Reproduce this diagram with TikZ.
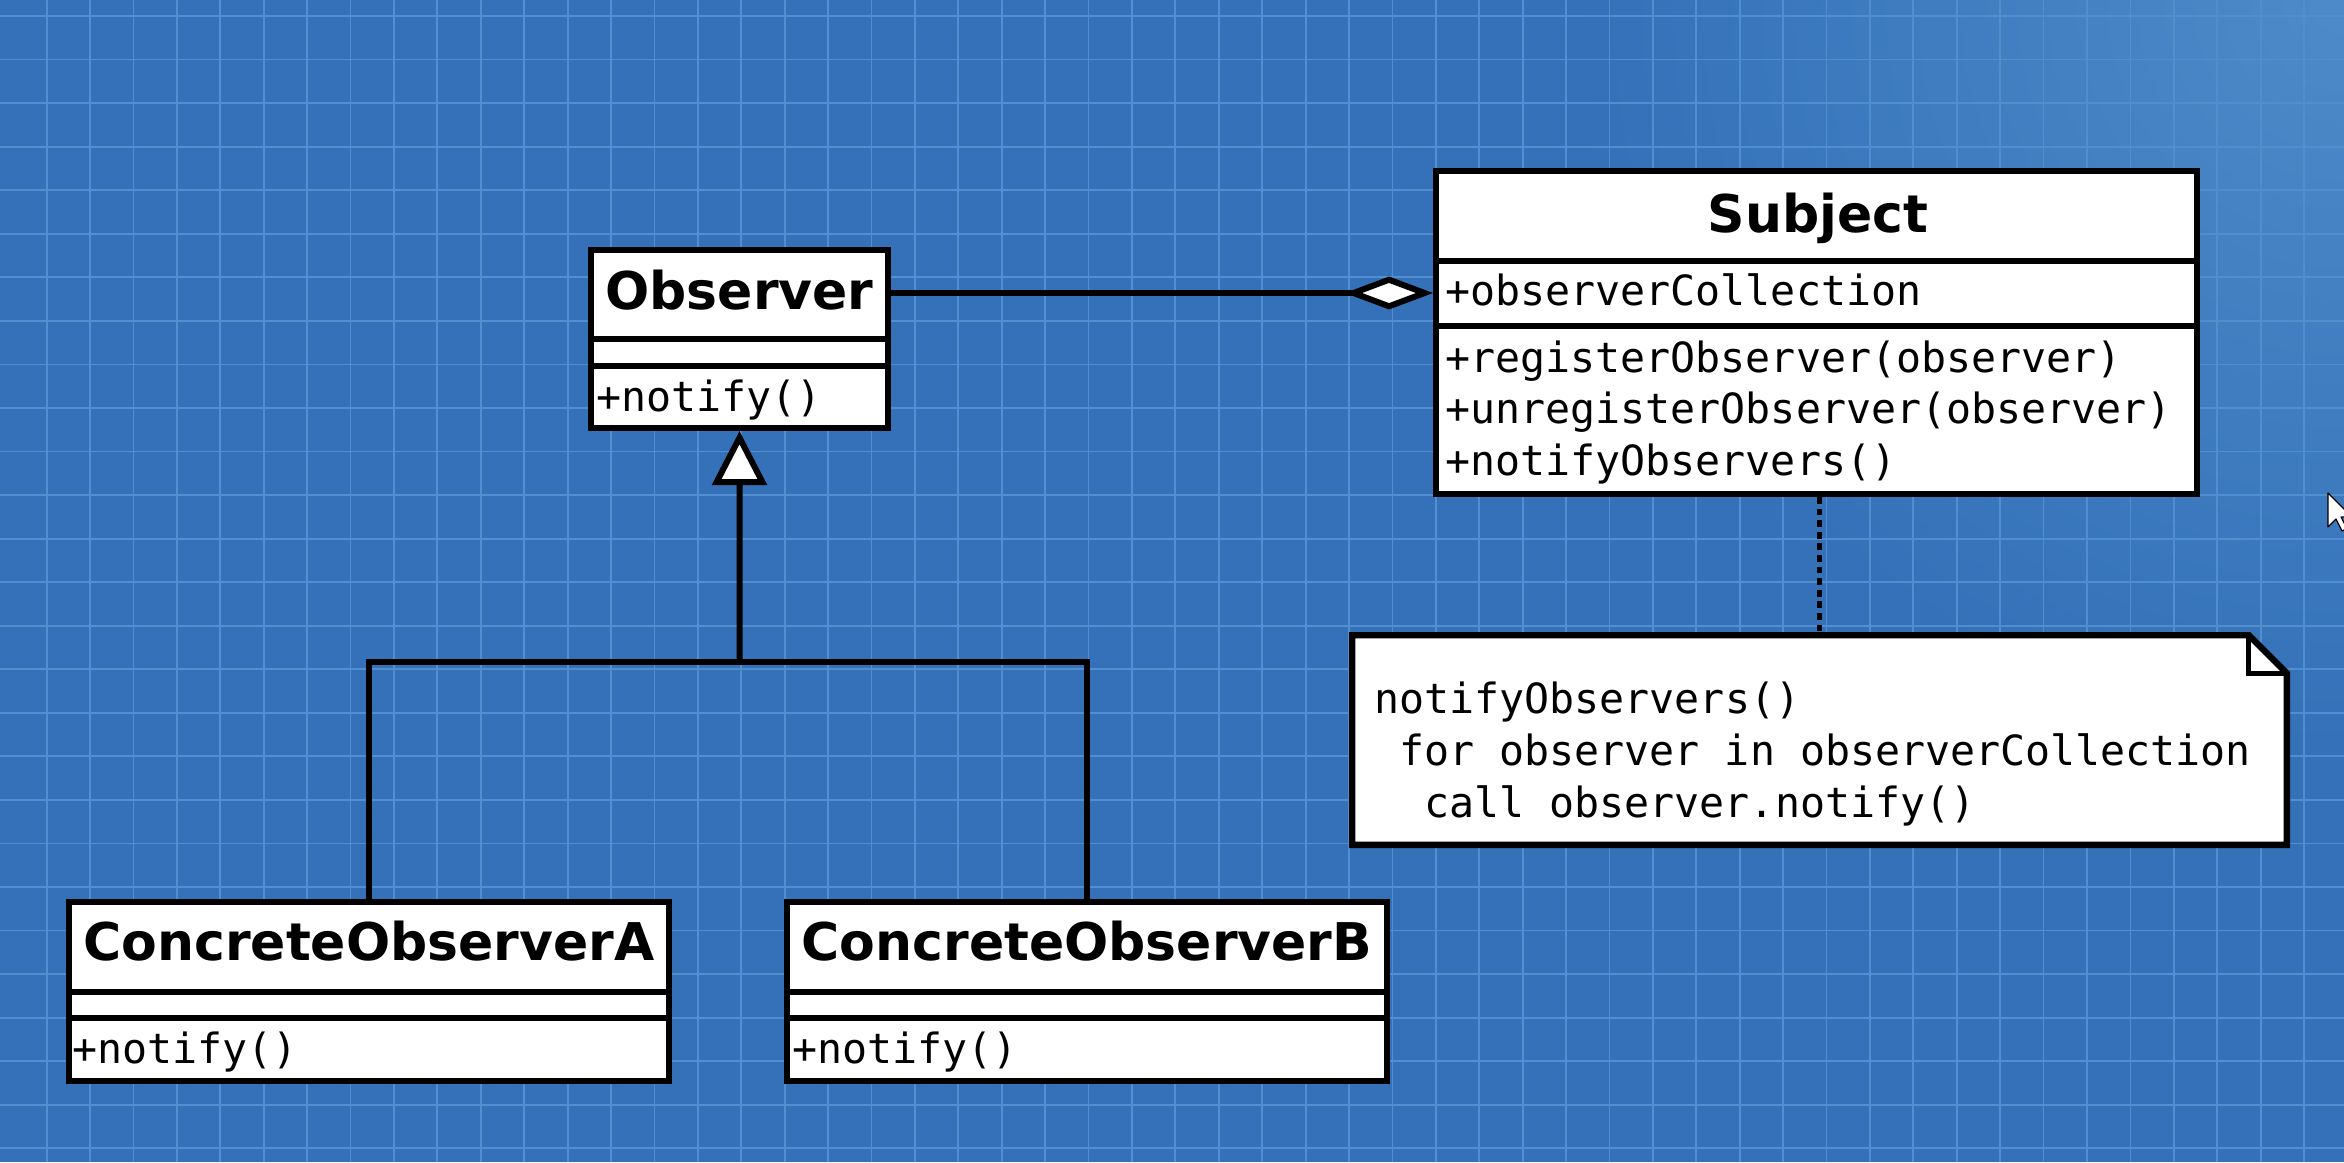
\documentclass[tikz,border=0pt]{standalone}
\usepackage{fontspec}
\usetikzlibrary{arrows.meta,fadings}
\newfontfamily\titlefont{DejaVu Sans}
\newfontfamily\codefont{DejaVu Sans Mono}
\definecolor{bgblue}{RGB}{52,113,184}
\definecolor{gridblue}{RGB}{82,143,209}
\definecolor{glowblue}{RGB}{80,142,204}
\tikzfading[name=glowfade, inner color=transparent!0, outer color=transparent!100]
\begin{document}
\begin{tikzpicture}[x=0.5pt,y=-0.5pt,
  umlbox/.style={draw=black, fill=white, line width=3.2pt, inner sep=0pt, anchor=north west},
  titletext/.style={font=\titlefont\bfseries\fontsize{26}{30}\selectfont, anchor=base, inner sep=0pt},
  codetext/.style={font=\codefont\fontsize{20.8}{25.75}\selectfont, anchor=base west, inner sep=0pt},
  sepline/.style={line width=3.2pt},
  conn/.style={line width=3pt},
  gridline/.style={gridblue, line width=0.9pt}
]
\useasboundingbox (0,0) rectangle (2344,1162);
\begin{scope}
\clip (0,0) rectangle (2344,1162);
\fill[bgblue] (0,0) rectangle (2344,1162);
\foreach \i in {0,...,52} \draw[gridline] ({46.7+43.41*\i},0) -- ++(0,1162);
\foreach \j in {0,...,26} \draw[gridline] (0,{16+43.55*\j}) -- ++(2344,0);
\fill[glowblue, fill opacity=0.9, path fading=glowfade] (2344,0) circle (760);

% Observer
\node[umlbox, minimum width=148.3pt, minimum height=88.8pt] (obs) at (588,247) {};
\draw[sepline] (obs.west |- 0,339) -- (obs.east |- 0,339);
\draw[sepline] (obs.west |- 0,366) -- (obs.east |- 0,366);
\node[titletext] (tObs) at (739.5,309) {Observer};
\node[codetext] (mObs) at (596,411) {+notify()};

% Subject
\node[umlbox, minimum width=380.3pt, minimum height=161.3pt] (subj) at (1433,168) {};
\draw[sepline] (subj.west |- 0,261) -- (subj.east |- 0,261);
\draw[sepline] (subj.west |- 0,326) -- (subj.east |- 0,326);
\node[titletext] (tSubj) at (1818,232) {Subject};
\node[codetext] (aSubj) at (1445,305) {+observerCollection};
\node[codetext] (m1) at (1445,372) {+registerObserver(observer)};
\node[codetext] (m2) at (1445,423.5) {+unregisterObserver(observer)};
\node[codetext] (m3) at (1445,475) {+notifyObservers()};

% Concrete observers
\node[umlbox, minimum width=299.8pt, minimum height=89.3pt] (coa) at (66,899) {};
\draw[sepline] (coa.west |- 0,992) -- (coa.east |- 0,992);
\draw[sepline] (coa.west |- 0,1018) -- (coa.east |- 0,1018);
\node[titletext] (tA) at (369,960) {ConcreteObserverA};
\node[codetext] (mA) at (72,1063) {+notify()};

\node[umlbox, minimum width=299.8pt, minimum height=89.3pt] (cob) at (784,899) {};
\draw[sepline] (cob.west |- 0,992) -- (cob.east |- 0,992);
\draw[sepline] (cob.west |- 0,1018) -- (cob.east |- 0,1018);
\node[titletext] (tB) at (1087,960) {ConcreteObserverB};
\node[codetext] (mB) at (792,1063) {+notify()};

% Note
\node[draw=none, inner sep=0pt, outer sep=0pt, anchor=north west, minimum width=467.3pt, minimum height=104.8pt] (note) at (1352.2,635.2) {};
\draw[line width=3.2pt, fill=white, line join=miter]
  (note.north west) -- ([xshift=-19pt]note.north east) -- ([yshift=-19pt]note.north east)
  -- (note.south east) -- (note.south west) -- cycle;
\draw[line width=2.4pt, line join=miter]
  ([xshift=-19pt]note.north east) -- ([xshift=-19pt,yshift=-19pt]note.north east) -- ([yshift=-19pt]note.north east);
\node[codetext] (n1) at (1374,713) {notifyObservers()};
\node[codetext] (n2) at (1399,765) {for observer in observerCollection};
\node[codetext] (n3) at (1424,817) {call observer.notify()};

% Connectors
\draw[conn, -{Diamond[fill=white, length=44pt, width=16.5pt, line join=miter]}]
  (obs.east |- 0,293) -- (subj.west |- 0,293);
\coordinate (jn) at (739.5,662);
\draw[conn] (coa.north) |- (jn) -| (cob.north);
\draw[conn, -{Triangle[fill=white, length=27pt, width=27pt, line join=miter]}] (jn) -- (obs.south);
\draw[line width=2.8pt, dash pattern=on 3.4pt off 2.4pt] (note.north |- subj.south) -- (note.north);

% mouse pointer
\filldraw[fill=white, draw=black, line width=0.6pt, line join=round]
  (2328,493) -- ++(0,34) -- ++(8,-8) -- ++(6,12) -- ++(5,-2.5) -- ++(-6,-11.5) -- ++(11,0) -- cycle;
\end{scope}
\end{tikzpicture}
\end{document}
